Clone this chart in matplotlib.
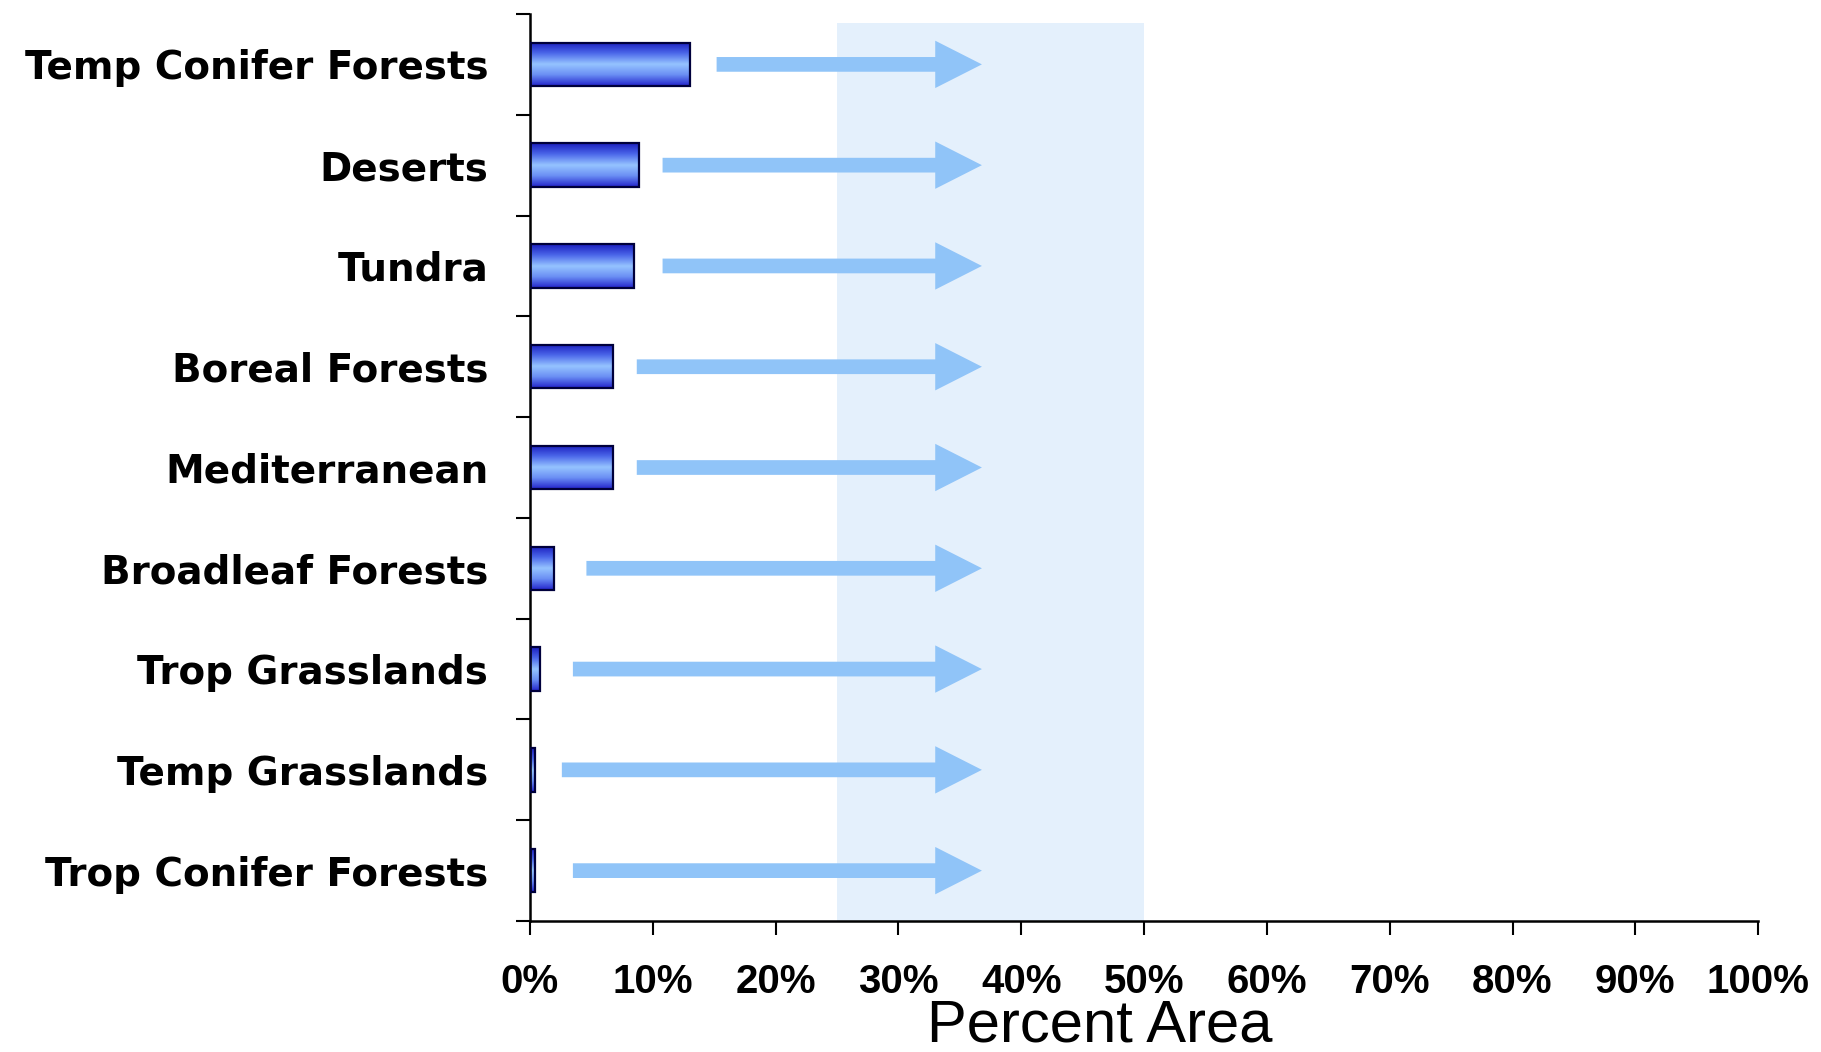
import numpy as np
import matplotlib
matplotlib.use('Agg')
import matplotlib.pyplot as plt
from matplotlib.colors import LinearSegmentedColormap
from matplotlib.patches import FancyArrow

plt.rcParams['font.family'] = ['Liberation Sans', 'DejaVu Sans']

# data (percent of area)
biomes = ['Temp Conifer Forests', 'Deserts', 'Tundra', 'Boreal Forests',
          'Mediterranean', 'Broadleaf Forests', 'Trop Grasslands',
          'Temp Grasslands', 'Trop Conifer Forests']
current = [13.0, 8.9, 8.5, 6.8, 6.8, 2.0, 0.85, 0.45, 0.45]
arrow_start = [15.2, 10.8, 10.8, 8.7, 8.7, 4.6, 3.5, 2.6, 3.5]
arrow_end = 36.8
band = (25, 50)
xticks = list(range(0, 101, 10))

fig = plt.figure(figsize=(18.21, 10.52), dpi=100)
ax = fig.add_axes([0.291, 0.1245, 0.6745, 0.8622])

pos = np.arange(len(biomes))

# shaded target band
ax.axvspan(band[0], band[1], ymin=0, ymax=0.99, color='#e4f0fc', lw=0, zorder=0)

# bars with vertical gradient
cmap = LinearSegmentedColormap.from_list(
    'barg', ['#1c20c0', '#4c68ea', '#96c4ff', '#6a8ef4', '#2426cc'])
grad = np.linspace(0, 1, 64).reshape(-1, 1)
bars = ax.barh(pos, current, height=0.43, color='none',
               edgecolor='#00003c', lw=1.6, zorder=3)
for b in bars:
    x0, y0 = b.get_xy()
    w, h = b.get_width(), b.get_height()
    im = ax.imshow(grad, cmap=cmap, aspect='auto', interpolation='bicubic',
                   extent=(x0, x0 + w, y0 + h, y0), zorder=2.5)
    im.set_clip_path(b)

# arrows
for yy, xs in zip(pos, arrow_start):
    ax.add_patch(FancyArrow(xs, yy, arrow_end - xs, 0, width=0.146,
                            head_width=0.47, head_length=3.8,
                            length_includes_head=True, color='#90c4f8',
                            lw=0, zorder=2))

ax.set_xlim(0, 100)
ax.set_ylim(len(biomes) - 0.5, -0.5)

ax.set_xticks(xticks)
ax.set_xticklabels(['%d%%' % t for t in xticks], fontsize=29, fontweight='bold')
ax.set_yticks(np.arange(len(biomes) + 1) - 0.5)
ax.set_yticklabels([])
ax.set_yticks(pos, minor=True)
ax.set_yticklabels(biomes, minor=True, fontsize=28, fontweight='bold',
                   family=['DejaVu Sans'])
ax.tick_params(axis='y', which='minor', length=0, pad=30)
ax.tick_params(axis='both', which='major', length=10, width=1.5, direction='out')
ax.tick_params(axis='x', pad=20)

for s in ['top', 'right']:
    ax.spines[s].set_visible(False)
for s in ['left', 'bottom']:
    ax.spines[s].set_linewidth(1.8)

ax.text(0.464, -0.133, 'Percent Area', transform=ax.transAxes,
        ha='center', va='baseline', fontsize=43)

fig.savefig('out.png', dpi=100)
